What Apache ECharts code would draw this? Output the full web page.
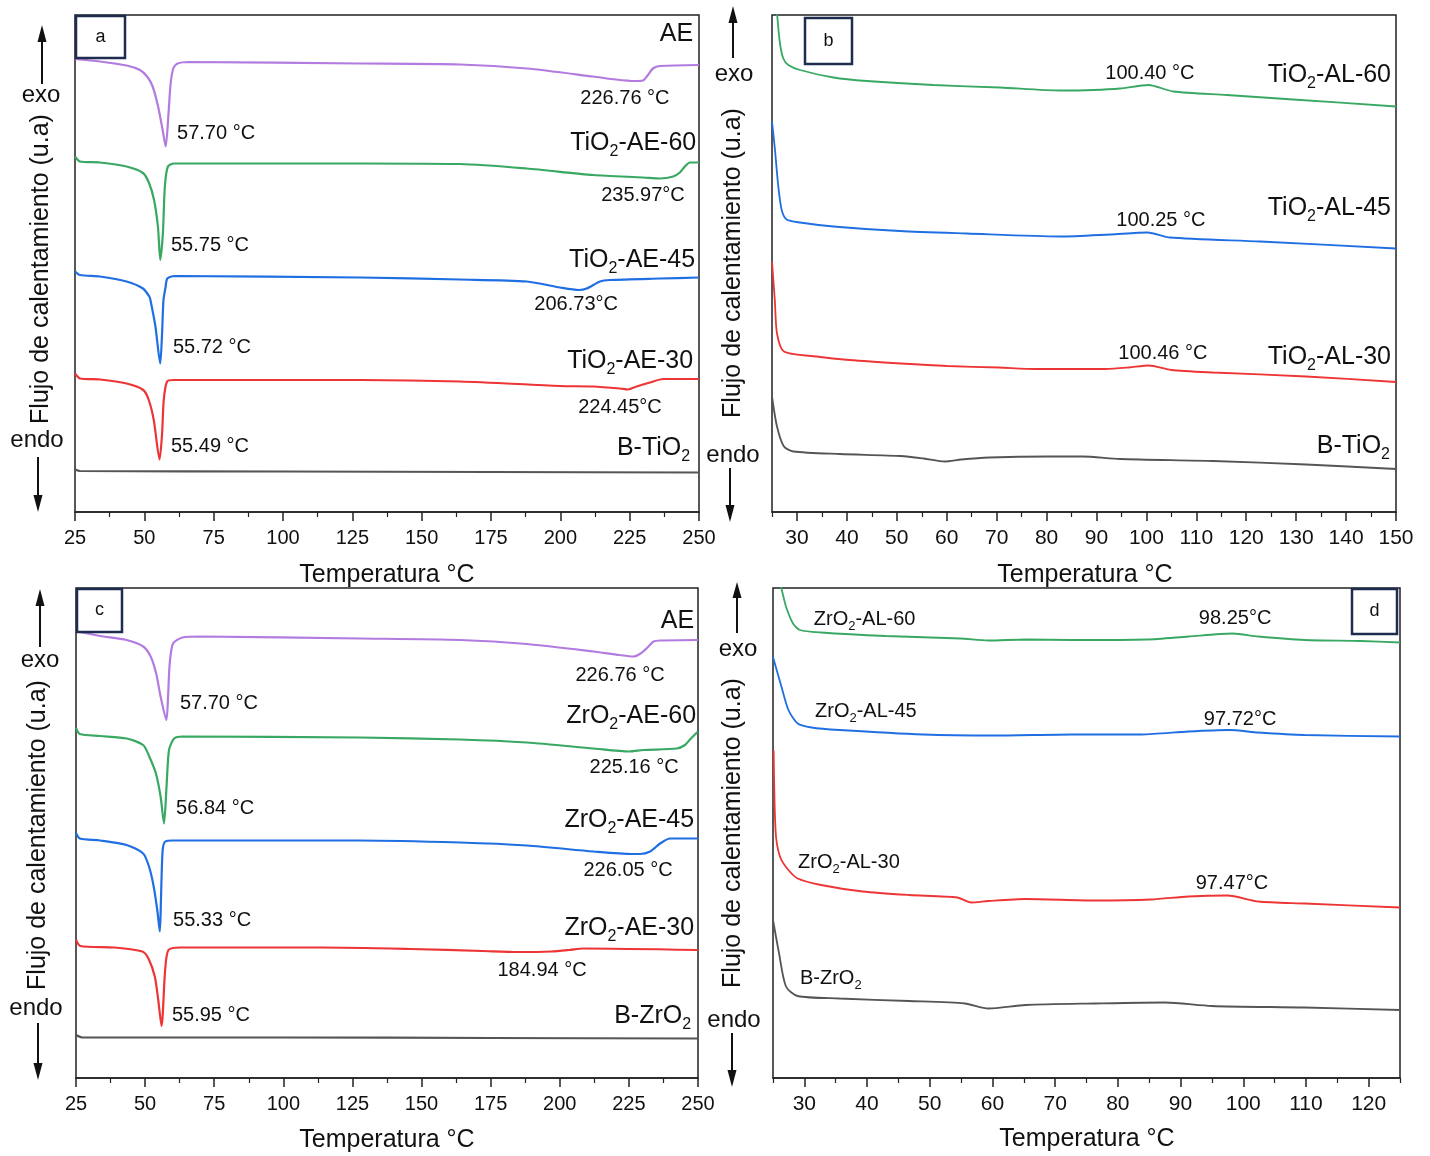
<!DOCTYPE html>
<html>
<head>
<meta charset="utf-8">
<script src="https://cdn.jsdelivr.net/npm/echarts@6/dist/echarts.min.js"></script>
<style>
  html, body { margin: 0; padding: 0; background: #ffffff; }
  #chart { width: 1430px; height: 1156px; }
</style>
</head>
<body>
<div id="chart"></div>
<script>
// DSC heat-flow curves, arbitrary units (u.a). Each curve: [temperature °C, heat flow].

// ---- Panel a: TiO2 + AE, 25–250 °C ----
const a_AE   = [[25,90.6],[34,90.1],[43.6,89.3],[48.4,88.4],[51,87.1],[53,85.1],[55,81.0],[56.6,76.4],[57.7,73.1],[58.8,80.4],[59.5,85.8],[60.5,88.8],[62,89.7],[66,90.0],[127.8,89.7],[163.8,89.5],[187.9,88.7],[211.8,87.1],[220,86.5],[226.76,86.2],[229.8,86.3],[231.6,87.4],[233.4,88.7],[235.9,89.2],[250,89.4]];
const a_AE60 = [[25,71.1],[26.8,70.1],[34,69.9],[43.6,69.1],[49.5,67.8],[51.7,65.8],[53.5,62.4],[54.9,57.1],[55.75,50.4],[56.7,55.8],[57.4,65.1],[58.5,69.1],[60.7,69.7],[70,69.7],[127.8,69.7],[163.8,69.6],[187.9,68.7],[211.9,67.4],[229.9,66.9],[235.97,66.7],[240.7,67.1],[243.1,67.9],[244.9,69.1],[246.7,69.9],[250,69.9]];
const a_AE45 = [[25,48.1],[26.8,47.4],[34,47.1],[43.6,46.1],[49.5,44.7],[51.8,43.1],[52.2,42.4],[54,37.1],[55.72,29.7],[56.4,35.8],[56.9,42.4],[57.6,44.8],[58.3,46.7],[60.9,47.2],[127.8,46.9],[163.8,46.5],[187.9,46.1],[199.9,44.9],[206.73,44.4],[209.5,44.7],[214.3,46.1],[217.9,46.4],[235.9,46.7],[250,46.9]];
const a_AE30 = [[25,27.7],[26.8,26.7],[34,26.5],[43.6,25.7],[49.6,24.4],[51.6,22.4],[53.4,18.4],[55.49,10.5],[56.4,15.7],[57,22.4],[58.2,26.1],[60.6,26.4],[127.8,26.4],[163.8,26.1],[199.9,25.2],[211.9,25.1],[221.5,24.7],[224.45,24.5],[227.5,25.1],[232.3,25.9],[237.1,26.6],[250,26.6]];
const a_B    = [[25,8.5],[26.8,8.2],[100,8.1],[175,8.0],[250,7.9]];

// ---- Panel b: TiO2 + AL, 25–150 °C ----
const b_AL60 = [[25,112],[26.06,99.1],[26.6,93.7],[27.26,90.7],[28.27,89.4],[30.6,88.4],[37.3,86.9],[44,86.2],[57.3,85.4],[70.7,84.9],[82.7,84.3],[89.4,84.4],[94.7,84.7],[100.4,85.4],[105.4,84.1],[116.1,83.4],[129.4,82.5],[150,81.1]];
const b_AL45 = [[25,78.1],[25.6,72.4],[26.26,65.1],[26.94,60.4],[27.94,58.5],[30.6,57.9],[37.3,57.1],[50.6,56.2],[64,55.7],[82.7,55.1],[92.7,55.5],[100.25,55.9],[104.7,54.9],[122.8,54.1],[150,52.7]];
const b_AL30 = [[25,50],[25.56,42.4],[26,35.7],[27.4,32.1],[33.9,31.1],[40.5,30.4],[50.8,29.7],[60.1,29.2],[70.4,28.9],[77.8,28.6],[91.9,28.6],[96.5,28.9],[100.46,29.3],[105,28.4],[113.4,27.9],[132,27.1],[150,26.0]];
const b_B    = [[25,23.1],[26,17.1],[27.4,13.1],[29.3,12.1],[38.6,11.6],[50.8,11.2],[55.4,10.7],[59.6,10.1],[62.9,10.5],[68.5,10.9],[80.6,11.1],[87.2,11.1],[94.7,10.6],[113.4,10.2],[132,9.5],[150,8.6]];

// ---- Panel c: ZrO2 + AE, 25–250 °C ----
const c_AE   = [[25,89.4],[25.5,89.3],[33.7,88.4],[43.3,87.6],[49.3,86.3],[52,84.3],[54,80.9],[55.6,76.3],[57.7,71.6],[58.3,76.3],[58.9,82.9],[60.1,86.9],[63.5,88.1],[69.9,88.3],[127.7,87.9],[163.9,87.6],[188.1,86.8],[212.2,85.3],[221.5,84.6],[226.76,84.3],[229.5,85.0],[232.1,86.3],[233.9,87.3],[236.3,87.5],[250,87.6]];
const c_AE60 = [[25,70.0],[26.4,68.8],[33.7,68.4],[43.3,67.9],[49.3,66.6],[51.5,64.3],[53.9,60.9],[55.6,56.3],[56.84,50.9],[57.75,58.3],[58.65,65.6],[60.5,67.9],[63.6,68.3],[127.7,68.1],[163.9,67.7],[188.1,67.1],[212.2,65.9],[225.16,65.3],[230.3,65.6],[242.3,65.9],[245.3,66.6],[247.1,67.7],[250,69.3]];
const c_AE45 = [[25,49.0],[26.4,47.9],[33.7,47.5],[43.3,46.6],[49.3,44.9],[51.4,42.3],[53.0,38.6],[54.4,33.6],[55.33,29.3],[55.73,35.6],[56.03,41.6],[56.43,46.0],[57.33,47.3],[59.8,47.5],[127.7,47.5],[163.9,47.1],[188.1,46.5],[212.2,45.3],[226.05,44.8],[229,44.8],[232.7,45.3],[236.3,46.9],[239.9,47.9],[250,47.9]];
const c_AE30 = [[25,27.6],[26.6,26.4],[39,26.1],[49,25.3],[51.2,23.9],[53.5,20.3],[54.75,15.6],[55.95,10.4],[57.25,21.6],[58.45,25.6],[62.7,26.1],[113.8,26.1],[146,25.8],[171.9,25.4],[184.94,25.2],[196.9,25.3],[203.5,25.6],[208.5,25.9],[250,25.6]];
const c_B    = [[25,8.6],[27.4,8.1],[100,8.1],[175,8.0],[250,7.9]];

// ---- Panel d: ZrO2 + AL, 25–125 °C ----
const d_AL60 = [[25,104],[26.34,97.9],[27.07,94.3],[28.19,90.9],[29.3,89.6],[32.66,89.1],[43,88.4],[54.9,87.9],[59.35,87.5],[65.3,87.7],[72.7,87.6],[84.6,87.7],[91.25,88.3],[98.25,88.9],[102.4,88.3],[109.8,87.6],[118.7,87.4],[125,87.1]];
const d_AL45 = [[25,84.2],[26.34,78.3],[27.46,73.6],[28.94,70.9],[31.16,70.1],[35.6,69.6],[49,68.7],[60.1,68.5],[72.7,68.7],[83.8,68.7],[91.25,69.3],[97.72,69.6],[102.4,69.1],[109.8,68.6],[125,68.3]];
const d_AL30 = [[25.1,65.5],[25.25,55],[25.5,48],[26.2,44],[27.46,41.6],[28.94,39.9],[32.66,38.6],[39.3,37.3],[46.7,36.6],[54.4,36.1],[56.6,35.1],[59.35,35.4],[65.3,35.8],[76.4,35.5],[85.3,35.7],[91.25,36.3],[97.47,36.5],[102.4,35.3],[109.8,34.9],[125,34.1]];
const d_B    = [[25,31.6],[25.97,24.9],[27.07,18.3],[28.94,16.4],[35.6,15.9],[46.7,15.4],[55.6,14.9],[59.35,13.9],[65.3,14.6],[76.4,14.9],[87.5,15.1],[95,14.4],[109.8,14.1],[125,13.6]];

// Tick values for the narrower temperature ranges
const ticksB = [30,40,50,60,70,80,90,100,110,120,130,140,150];
const minorB = [25,35,45,55,65,75,85,95,105,115,125,135,145];
const ticksD = [30,40,50,60,70,80,90,100,110,120];
const minorD = [25,35,45,55,65,75,85,95,105,115,125];

// Peak temperatures written on the curves
const peaksA = ['57.70 °C','226.76 °C','55.75 °C','235.97°C','55.72 °C','206.73°C','55.49 °C','224.45°C'];
const peaksB = ['100.40 °C','100.25 °C','100.46 °C'];
const peaksC = ['57.70 °C','226.76 °C','56.84 °C','225.16 °C','55.33 °C','226.05 °C','55.95 °C','184.94 °C'];
const peaksD = ['98.25°C','97.72°C','97.47°C'];

const FONT = '"Liberation Sans", Arial, Helvetica, sans-serif';
const INK = '#111111';
const FRAME = '#222222';
const COL = { ae: '#B27BE0', s60: '#38A863', s45: '#1F6FE3', s30: '#EE3535', base: '#555555' };

// Rich-text styles (main text + subscript)
function richSet(main, sub, subLH, mainLH) {
  return {
    m: { fontSize: main, lineHeight: mainLH, fontFamily: FONT, fill: INK },
    s: { fontSize: sub, lineHeight: subLH, verticalAlign: 'bottom', fontFamily: FONT, fill: INK }
  };
}
const RICH_L = richSet(25, 16, 16, 34);
const RICH_S = richSet(20, 13, 12, 28);
const chem = (pre, sub, post) => `{m|${pre}}{s|${sub}}{m|${post}}`;
const plain = t => `{m|${t}}`;

// Text placements (temperature, heat flow) per panel
const labA = [
  { txt: plain('AE'), at: [247.9, 95.6], al: 'right', r: RICH_L },
  { txt: plain(peaksA[0]), at: [61.8, 75.8], al: 'left', r: RICH_S },
  { txt: plain(peaksA[1]), at: [223.3, 82.8], al: 'center', r: RICH_S },
  { txt: chem('TiO', '2', '-AE-60'), at: [249.0, 73.8], al: 'right', r: RICH_L },
  { txt: plain(peaksA[2]), at: [59.6, 53.4], al: 'left', r: RICH_S },
  { txt: plain(peaksA[3]), at: [229.8, 63.4], al: 'center', r: RICH_S },
  { txt: chem('TiO', '2', '-AE-45'), at: [248.6, 50.4], al: 'right', r: RICH_L },
  { txt: plain(peaksA[4]), at: [60.3, 33.0], al: 'left', r: RICH_S },
  { txt: plain(peaksA[5]), at: [205.7, 41.6], al: 'center', r: RICH_S },
  { txt: chem('TiO', '2', '-AE-30'), at: [247.9, 30.2], al: 'right', r: RICH_L },
  { txt: plain(peaksA[6]), at: [59.6, 13.2], al: 'left', r: RICH_S },
  { txt: plain(peaksA[7]), at: [221.5, 21.0], al: 'center', r: RICH_S },
  { txt: chem('B-TiO', '2', ''), at: [246.8, 12.8], al: 'right', r: RICH_L }
];
const labB = [
  { txt: plain(peaksB[0]), at: [100.7, 87.8], al: 'center', r: RICH_S },
  { txt: chem('TiO', '2', '-AL-60'), at: [149.0, 87.4], al: 'right', r: RICH_L },
  { txt: plain(peaksB[1]), at: [102.9, 58.4], al: 'center', r: RICH_S },
  { txt: chem('TiO', '2', '-AL-45'), at: [149.0, 60.8], al: 'right', r: RICH_L },
  { txt: plain(peaksB[2]), at: [103.3, 31.8], al: 'center', r: RICH_S },
  { txt: chem('TiO', '2', '-AL-30'), at: [149.0, 31.0], al: 'right', r: RICH_L },
  { txt: chem('B-TiO', '2', ''), at: [148.8, 13.2], al: 'right', r: RICH_L }
];
const labC = [
  { txt: plain('AE'), at: [248.6, 91.4], al: 'right', r: RICH_L },
  { txt: plain(peaksC[0]), at: [62.6, 75.0], al: 'left', r: RICH_S },
  { txt: plain(peaksC[1]), at: [221.8, 80.6], al: 'center', r: RICH_S },
  { txt: chem('ZrO', '2', '-AE-60'), at: [249.3, 72.4], al: 'right', r: RICH_L },
  { txt: plain(peaksC[2]), at: [61.2, 54.0], al: 'left', r: RICH_S },
  { txt: plain(peaksC[3]), at: [226.9, 62.2], al: 'center', r: RICH_S },
  { txt: chem('ZrO', '2', '-AE-45'), at: [248.6, 51.6], al: 'right', r: RICH_L },
  { txt: plain(peaksC[4]), at: [60.1, 31.6], al: 'left', r: RICH_S },
  { txt: plain(peaksC[5]), at: [224.7, 41.6], al: 'center', r: RICH_S },
  { txt: chem('ZrO', '2', '-AE-30'), at: [248.6, 30.0], al: 'right', r: RICH_L },
  { txt: plain(peaksC[6]), at: [59.7, 12.6], al: 'left', r: RICH_S },
  { txt: plain(peaksC[7]), at: [193.6, 21.6], al: 'center', r: RICH_S },
  { txt: chem('B-ZrO', '2', ''), at: [247.5, 12.4], al: 'right', r: RICH_L }
];
const labD = [
  { txt: chem('ZrO', '2', '-AL-60'), at: [31.5, 91.8], al: 'left', r: RICH_S },
  { txt: plain(peaksD[0]), at: [98.7, 92.0], al: 'center', r: RICH_S },
  { txt: chem('ZrO', '2', '-AL-45'), at: [31.7, 73.4], al: 'left', r: RICH_S },
  { txt: plain(peaksD[1]), at: [99.5, 71.8], al: 'center', r: RICH_S },
  { txt: chem('ZrO', '2', '-AL-30'), at: [29.0, 43.2], al: 'left', r: RICH_S },
  { txt: plain(peaksD[2]), at: [98.2, 39.0], al: 'center', r: RICH_S },
  { txt: chem('B-ZrO', '2', ''), at: [29.3, 20.0], al: 'left', r: RICH_S }
];

function curve(name, data, color, xi, yi, w) {
  return {
    name, type: 'line', xAxisIndex: xi, yAxisIndex: yi, data,
    symbol: 'none', showSymbol: false, smooth: 0.25, clip: true,
    lineStyle: { color, width: w }, itemStyle: { color }, silent: true, z: 3
  };
}

const axisLineStyle = { show: true, lineStyle: { color: FRAME, width: 1.5 } };
const labelStyle = (size) => ({ fontSize: size, margin: 16, color: INK, fontFamily: FONT });

function wideAxis(gi, min, max) {
  return {
    gridIndex: gi, type: 'value', position: 'bottom', min, max, interval: 25,
    axisLine: axisLineStyle,
    axisTick: { show: true, length: 9, lineStyle: { color: FRAME, width: 1.5 } },
    minorTick: { show: true, splitNumber: 2, length: 5, lineStyle: { color: FRAME, width: 1.2 } },
    axisLabel: labelStyle(20), splitLine: { show: false }, minorSplitLine: { show: false }
  };
}
function majorAxis(gi, min, max, ticks) {
  return {
    gridIndex: gi, type: 'value', position: 'bottom', min, max,
    axisLine: axisLineStyle,
    axisTick: { show: true, length: 9, customValues: ticks, lineStyle: { color: FRAME, width: 1.5 } },
    axisLabel: Object.assign(labelStyle(21), { customValues: ticks }),
    splitLine: { show: false }
  };
}
function minorAxis(gi, min, max, ticks) {
  return {
    gridIndex: gi, type: 'value', position: 'bottom', min, max,
    axisLine: { show: false },
    axisTick: { show: true, length: 5, customValues: ticks, lineStyle: { color: FRAME, width: 1.2 } },
    axisLabel: { show: false, customValues: ticks }, splitLine: { show: false }
  };
}
const hiddenY = (gi, max) => ({ gridIndex: gi, type: 'value', min: 0, max, show: false, splitLine: { show: false } });
const frame = { show: true, borderColor: FRAME, borderWidth: 1.5, backgroundColor: 'transparent' };

// Decorations: panel tags, exo/endo arrows and axis titles
const graphics = [];
function gText(x, y, str, size, rot) {
  graphics.push({
    type: 'text', x, y, rotation: rot || 0, z: 50, silent: true,
    style: { text: str, fontSize: size, fontFamily: FONT, fill: INK,
             align: 'center', verticalAlign: 'middle', textAlign: 'center', textVerticalAlign: 'middle' }
  });
}
function gArrow(x, from, tip, headBase) {
  graphics.push({ type: 'line', z: 50, silent: true, shape: { x1: x, y1: from, x2: x, y2: headBase },
                  style: { stroke: INK, lineWidth: 2 } });
  graphics.push({ type: 'polygon', z: 50, silent: true,
                  shape: { points: [[x, tip], [x - 4.5, headBase], [x + 4.5, headBase]] },
                  style: { fill: INK } });
}
function gTag(x, y, w, h, letter) {
  graphics.push({ type: 'rect', z: 40, silent: true, shape: { x, y, width: w, height: h },
                  style: { fill: '#ffffff', stroke: '#1E2D4F', lineWidth: 2.5 } });
  gText(x + w / 2, y + h / 2, letter, 18);
}

const yTitle = 'Flujo de calentamiento (u.a)';
const xTitle = 'Temperatura °C';

gTag(76, 16, 49, 42, 'a');
gTag(805, 18, 47, 46, 'b');
gTag(77, 589, 45, 43, 'c');
gTag(1352, 589, 45, 45, 'd');

gArrow(42, 84, 25, 42);   gArrow(38, 457, 512, 495);
gArrow(733, 58, 6, 23);   gArrow(730, 468, 522, 505);
gArrow(40, 647, 589, 606); gArrow(38, 1023, 1080, 1063);
gArrow(737, 633, 582, 598); gArrow(732, 1033, 1087, 1070);

gText(41, 95, 'exo', 24);   gText(37, 440, 'endo', 24);
gText(734, 74, 'exo', 24);  gText(733, 455, 'endo', 24);
gText(40, 660, 'exo', 24);  gText(36, 1008, 'endo', 24);
gText(738, 649, 'exo', 24); gText(734, 1020, 'endo', 24);

gText(41, 269, yTitle, 25, Math.PI / 2);
gText(733, 263, yTitle, 25, Math.PI / 2);
gText(38, 835, yTitle, 25, Math.PI / 2);
gText(733, 833, yTitle, 25, Math.PI / 2);

gText(387, 575, xTitle, 25);
gText(1085, 575, xTitle, 25);
gText(387, 1140, xTitle, 25);
gText(1087, 1139, xTitle, 25);

const series = [
  curve('AE', a_AE, COL.ae, 0, 0, 2.2),
  curve('TiO2-AE-60', a_AE60, COL.s60, 0, 0, 2.2),
  curve('TiO2-AE-45', a_AE45, COL.s45, 0, 0, 2.2),
  curve('TiO2-AE-30', a_AE30, COL.s30, 0, 0, 2.2),
  curve('B-TiO2', a_B, COL.base, 0, 0, 2.2),

  curve('TiO2-AL-60', b_AL60, COL.s60, 1, 1, 1.8),
  curve('TiO2-AL-45', b_AL45, COL.s45, 1, 1, 1.8),
  curve('TiO2-AL-30', b_AL30, COL.s30, 1, 1, 1.8),
  curve('B-TiO2 (AL)', b_B, COL.base, 1, 1, 1.8),

  curve('AE (ZrO2)', c_AE, COL.ae, 3, 2, 2.2),
  curve('ZrO2-AE-60', c_AE60, COL.s60, 3, 2, 2.2),
  curve('ZrO2-AE-45', c_AE45, COL.s45, 3, 2, 2.2),
  curve('ZrO2-AE-30', c_AE30, COL.s30, 3, 2, 2.2),
  curve('B-ZrO2', c_B, COL.base, 3, 2, 2.2),

  curve('ZrO2-AL-60', d_AL60, COL.s60, 4, 3, 1.8),
  curve('ZrO2-AL-45', d_AL45, COL.s45, 4, 3, 1.8),
  curve('ZrO2-AL-30', d_AL30, COL.s30, 4, 3, 1.8),
  curve('B-ZrO2 (AL)', d_B, COL.base, 4, 3, 1.8)
];

const chart = echarts.init(document.getElementById('chart'), null, { renderer: 'canvas' });
chart.setOption({
  animation: false,
  backgroundColor: '#ffffff',
  textStyle: { fontFamily: FONT },
  grid: [
    Object.assign({ left: 75, top: 15, width: 624, height: 497 }, frame),
    Object.assign({ left: 772, top: 15, width: 624, height: 497 }, frame),
    Object.assign({ left: 76, top: 588, width: 622, height: 490 }, frame),
    Object.assign({ left: 773, top: 588, width: 627, height: 490 }, frame)
  ],
  xAxis: [
    wideAxis(0, 25, 250),
    majorAxis(1, 25, 150, ticksB),
    minorAxis(1, 25, 150, minorB),
    wideAxis(2, 25, 250),
    majorAxis(3, 25, 125, ticksD),
    minorAxis(3, 25, 125, minorD)
  ],
  yAxis: [hiddenY(0, 99.4), hiddenY(1, 99.4), hiddenY(2, 98), hiddenY(3, 98)],
  series
});

// Curve annotations, positioned through each panel's own scales
const panelText = [[labA, 0], [labB, 5], [labC, 9], [labD, 14]];
const annot = [];
panelText.forEach(([items, seriesIndex]) => {
  items.forEach(o => {
    const p = chart.convertToPixel({ seriesIndex }, o.at);
    annot.push({
      type: 'text', x: p[0], y: p[1], z: 60, silent: true,
      style: { text: o.txt, rich: o.r, fill: INK, fontFamily: FONT,
               align: o.al, verticalAlign: 'middle', textAlign: o.al, textVerticalAlign: 'middle' }
    });
  });
});
chart.setOption({ graphic: { elements: graphics.concat(annot) } });
</script>
</body>
</html>
